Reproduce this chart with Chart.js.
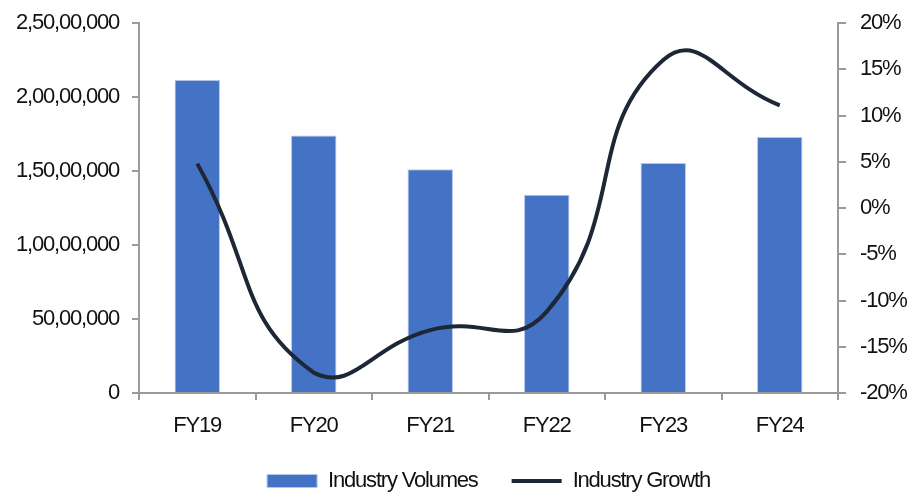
<!DOCTYPE html>
<html>
<head>
<meta charset="utf-8">
<script src="https://cdn.jsdelivr.net/npm/chart.js@4.4.1/dist/chart.umd.min.js"></script>
<style>
  html, body { margin: 0; padding: 0; background: #fff; }
  #wrap { width: 913px; height: 493px; position: relative; }
</style>
</head>
<body>
<div id="wrap"><canvas id="chart"></canvas></div>
<script>
// Industry volumes (units) with YoY growth on the secondary axis
const years = ['FY19', 'FY20', 'FY21', 'FY22', 'FY23', 'FY24'];
const volumes = [21150000, 17400000, 15110000, 13400000, 15540000, 17290000];
const growthPct = [4.8, -17.8, -13.2, -11.2, 16.0, 11.1];

const FONT = "'Liberation Sans', Arial, sans-serif";
const AXIS_GREY = '#9a9a9a';
const TEXT = '#111';

// lakh/crore grouping: 2,50,00,000
function indianGroup(n) {
  const s = String(Math.round(n));
  if (s.length <= 3) return s;
  const head = s.slice(0, -3).replace(/\B(?=(\d{2})+(?!\d))/g, ',');
  return head + ',' + s.slice(-3);
}

// tighter tracking for every label on the canvas; the canvas resets its
// state on resize, so reapply before layout and before painting
const tightText = {
  id: 'tightText',
  beforeUpdate(chart) { chart.ctx.letterSpacing = '-1.2px'; },
  beforeDraw(chart) { chart.ctx.letterSpacing = '-1.2px'; },
};

const tickFont = { family: FONT, size: 22 };

// fixed axis widths; the end labels may overhang the plot area
const fitSide = (w) => (s) => {
  s.width = w;
  s.paddingTop = 0;
  s.paddingBottom = 0;
};

new Chart(document.getElementById('chart'), {
  plugins: [tightText],
  data: {
    labels: years,
    datasets: [
      {
        type: 'bar',
        label: 'Industry Volumes',
        data: volumes,
        yAxisID: 'vol',
        backgroundColor: '#4472c4',
        borderColor: '#b4c6ea',
        borderWidth: 1,
        barPercentage: 0.39,
        categoryPercentage: 1,
        pointStyle: 'rect',
        order: 1,
      },
      {
        type: 'line',
        label: 'Industry Growth',
        data: growthPct,
        yAxisID: 'growth',
        borderColor: '#1e2735',
        borderWidth: 4,
        pointRadius: 0,
        tension: 0.5,
        fill: false,
        pointStyle: 'line',
        order: 0,
      },
    ],
  },
  options: {
    responsive: true,
    maintainAspectRatio: false,
    animation: false,
    layout: { padding: { top: 23, left: 0, right: 0, bottom: 0 } },
    scales: {
      x: {
        offset: true,
        border: { display: true, color: AXIS_GREY, width: 2 },
        grid: { drawOnChartArea: false, drawTicks: true, tickLength: 7, color: AXIS_GREY, lineWidth: 2 },
        ticks: { color: TEXT, font: tickFont, padding: 13, maxRotation: 0 },
        afterFit: (s) => { s.height = 43; },
      },
      vol: {
        position: 'left',
        min: 0,
        max: 25000000,
        border: { display: true, color: AXIS_GREY, width: 2 },
        grid: { drawOnChartArea: false, drawTicks: true, tickLength: 7, color: AXIS_GREY, lineWidth: 2 },
        ticks: {
          stepSize: 5000000,
          color: TEXT,
          font: tickFont,
          padding: 13,
          callback: (v) => indianGroup(v),
        },
        afterFit: fitSide(139),
      },
      growth: {
        position: 'right',
        min: -20,
        max: 20,
        border: { display: true, color: AXIS_GREY, width: 2 },
        grid: { drawOnChartArea: false, drawTicks: true, tickLength: 8, color: AXIS_GREY, lineWidth: 2 },
        ticks: {
          stepSize: 5,
          color: TEXT,
          font: tickFont,
          padding: 14,
          callback: (v) => v + '%',
        },
        afterFit: fitSide(75),
      },
    },
    plugins: {
      legend: {
        position: 'bottom',
        fullSize: false,
        maxHeight: 57,
        labels: {
          usePointStyle: true,
          pointStyleWidth: 50,
          boxHeight: 13,
          padding: 34,
          color: TEXT,
          font: { family: FONT, size: 22 },
          sort: (a, b) => a.datasetIndex - b.datasetIndex,
        },
      },
      tooltip: { enabled: false },
    },
  },
});
</script>
</body>
</html>
